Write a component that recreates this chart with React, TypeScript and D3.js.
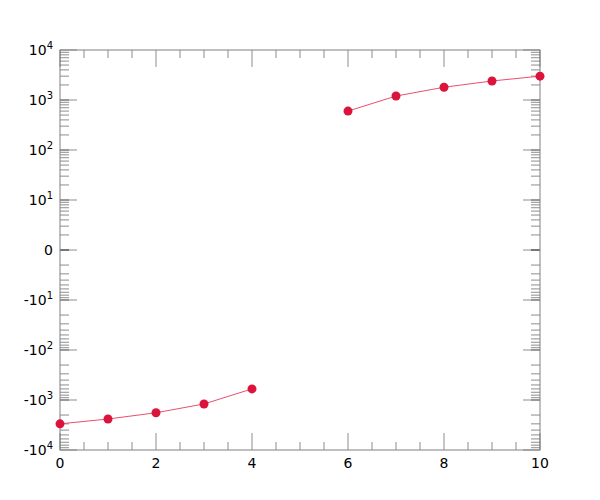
import React, { useEffect, useRef } from 'react';
import * as d3 from 'd3';

// chart data
const xValues = [0, 1, 2, 3, 4, 5, 6, 7, 8, 9, 10];
const yValues: (number | null)[] = [-3000, -2400, -1800, -1200, -600, null, 600, 1200, 1800, 2400, 3000];
const yMajorExps = [-4, -3, -2, -1, 0, 1, 2, 3, 4];
const xMajorTicks = [0, 2, 4, 6, 8, 10];
const xMinorTicks = d3.range(0, 10.01, 0.5);

const W = 600;
const H = 500;
const LIN = 10;

// symmetric log: one decade for |v| < 10, then log decades
const toUnits = (v: number) => {
   const a = Math.abs(v);
   const u = a < LIN ? a / LIN : 1 + Math.log10(a / LIN);
   return Math.sign(v) * u;
};

const App: React.FC = () => {
   const svgRef = useRef<SVGSVGElement | null>(null);

   useEffect(() => {
      if (!svgRef.current) return;
      const svg = d3.select(svgRef.current);
      svg.selectAll('*').remove();

      const margin = { top: 50, right: 60, bottom: 50, left: 60 };
      const x = d3.scaleLinear().domain([0, 10]).range([margin.left, W - margin.right]);
      const yu = d3.scaleLinear().domain([-4, 4]).range([H - margin.bottom, margin.top]);
      const y = (v: number) => yu(toUnits(v));

      const x0 = margin.left, x1 = W - margin.right;
      const y0 = margin.top, y1 = H - margin.bottom;
      const tickColor = 'rgba(0,0,0,0.45)';

      const g = svg.append('g');

      // minor y ticks (log spaced, mirrored)
      const minorU: number[] = [];
      for (let k = 0; k < 4; k++) {
         for (let m = 1; m <= 9; m++) {
            const u = k + Math.log10(m);
            minorU.push(u, -u);
         }
      }
      minorU.forEach(u => {
         const py = yu(u);
         g.append('line').attr('x1', x0).attr('x2', x0 + 9).attr('y1', py).attr('y2', py)
            .attr('stroke', tickColor);
         g.append('line').attr('x1', x1).attr('x2', x1 - 9).attr('y1', py).attr('y2', py)
            .attr('stroke', tickColor);
      });
      yMajorExps.forEach(e => {
         const py = yu(e);
         g.append('line').attr('x1', x0).attr('x2', x0 + 17).attr('y1', py).attr('y2', py)
            .attr('stroke', tickColor);
         g.append('line').attr('x1', x1).attr('x2', x1 - 17).attr('y1', py).attr('y2', py)
            .attr('stroke', tickColor);
      });

      // x ticks
      xMinorTicks.forEach(v => {
         const major = xMajorTicks.includes(v);
         const len = major ? 17 : 8;
         g.append('line').attr('x1', x(v)).attr('x2', x(v)).attr('y1', y1).attr('y2', y1 - len)
            .attr('stroke', tickColor);
         g.append('line').attr('x1', x(v)).attr('x2', x(v)).attr('y1', y0).attr('y2', y0 + len)
            .attr('stroke', tickColor);
      });

      // frame
      g.append('rect').attr('x', x0).attr('y', y0).attr('width', x1 - x0).attr('height', y1 - y0)
         .attr('fill', 'none').attr('stroke', '#808080').attr('stroke-width', 1);

      // y labels
      yMajorExps.forEach(e => {
         const t = g.append('text')
            .attr('x', x0 - 7)
            .attr('y', yu(e) + 5)
            .attr('text-anchor', 'end')
            .attr('font-family', 'DejaVu Sans')
            .attr('font-size', 14)
            .attr('fill', '#000');
         if (e === 0) {
            t.text('0');
            return;
         }
         const n = Math.abs(e);
         t.append('tspan').text(e < 0 ? '-10' : '10');
         t.append('tspan').attr('dy', -6).attr('font-size', 10).text(String(n));
      });

      // x labels
      xMajorTicks.forEach(v => {
         g.append('text')
            .attr('x', x(v))
            .attr('y', y1 + 18)
            .attr('text-anchor', 'middle')
            .attr('font-family', 'DejaVu Sans')
            .attr('font-size', 14)
            .attr('fill', '#000')
            .text(v);
      });

      const pts = xValues.map((xv, i) => ({ x: xv, y: yValues[i] }));
      const line = d3.line<{ x: number; y: number | null }>()
         .defined(d => d.y !== null)
         .x(d => x(d.x))
         .y(d => y(d.y as number));

      g.append('path')
         .datum(pts)
         .attr('d', line)
         .attr('fill', 'none')
         .attr('stroke', '#e8506e')
         .attr('stroke-width', 1);

      g.selectAll('.pt')
         .data(pts.filter(d => d.y !== null))
         .enter()
         .append('circle')
         .attr('class', 'pt')
         .attr('cx', d => x(d.x))
         .attr('cy', d => y(d.y as number))
         .attr('r', 4.5)
         .attr('fill', '#dc143c');
   }, []);

   return (
      <svg
         ref={svgRef}
         width={W}
         height={H}
         style={{ position: 'absolute', left: 0, top: 0, background: 'white' }}
      />
   );
};

export default App;
